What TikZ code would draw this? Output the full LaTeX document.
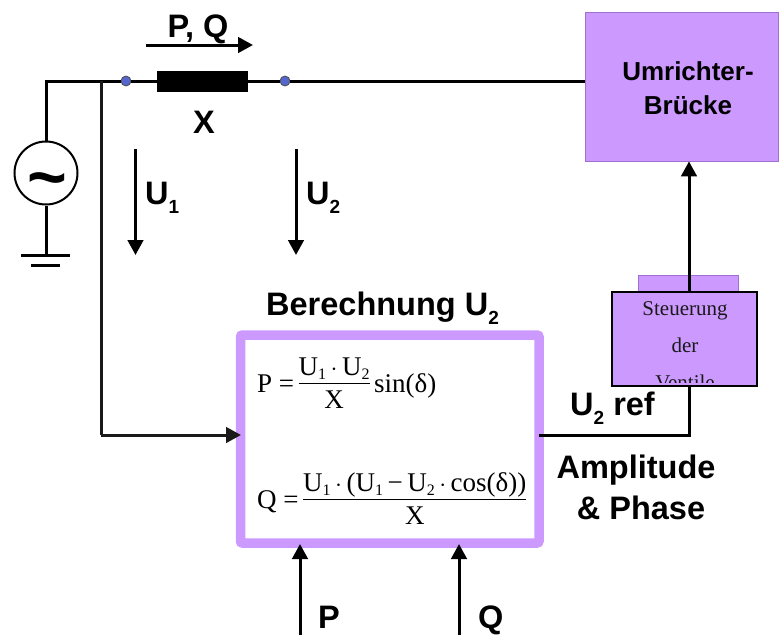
\documentclass[tikz,border=0pt]{standalone}
\usepackage{fontspec}
\usepackage{amsmath}
\setmainfont{Liberation Sans}
\newfontfamily\serifface{Liberation Serif}
\usetikzlibrary{arrows.meta}
\definecolor{lila}{HTML}{CC99FF}
\definecolor{lilaedge}{HTML}{A070D0}
\definecolor{dotblue}{HTML}{5566CC}
\tikzset{
  x=1pt,y=-1pt,
  wire/.style={draw=black,line width=3pt},
  thinwire/.style={draw=black!90,line width=3pt},
  arrowline/.style={wire,-{Triangle[length=15pt,width=15.5pt]}},
  lbl/.style={font=\fontsize{32.5}{36}\selectfont\bfseries,text=black,inner sep=0pt},
  umrlbl/.style={font=\fontsize{26}{30}\selectfont\bfseries,text=black,inner sep=0pt,anchor=base},
  sttext/.style={font=\serifface\fontsize{21}{24}\selectfont,inner sep=0pt,anchor=base,text=black!90},
  dot/.style={circle,fill=dotblue,draw=black!70,line width=0.8pt,minimum size=10pt,inner sep=0pt},
  eq/.style={font=\serifface\fontsize{27}{30}\selectfont,inner sep=0pt,anchor=west}
}
\newcommand{\lsub}[1]{\raisebox{-9pt}{\fontsize{19}{20}\selectfont #1}}
\newcommand{\esub}[1]{\raisebox{-4pt}{\fontsize{16}{17}\selectfont #1}}
\setlength{\arrayrulewidth}{1pt}
\begin{document}
\begin{tikzpicture}
\useasboundingbox (0,0) rectangle (779,635);
% boxes
\node[draw=lilaedge,fill=lila,line width=0.8pt,minimum width=193pt,minimum height=149pt,inner sep=0pt] (umr) at (681.5,86.5) {};
\node[umrlbl] (umrt1) at (688,80) {Umrichter-};
\node[umrlbl] (umrt2) at (688,114) {Brücke};
\node[draw=lilaedge,fill=lila,line width=0.8pt,minimum width=100pt,minimum height=18pt,inner sep=0pt] (stback) at (688,284) {};
\node[draw=black,fill=lila,line width=1.4pt,minimum width=145pt,minimum height=94pt,inner sep=0pt] (st) at (684.5,339) {};
\begin{scope}
\clip (612.7,292.7) rectangle (756.3,382.8);
\node[sttext] (st1) at (685,315) {Steuerung};
\node[sttext] (st2) at (685,352) {der};
\node[sttext] (st3) at (685,389) {Ventile};
\end{scope}
\node[draw=lila,fill=white,line width=9.5pt,rounded corners=2pt,minimum width=298.5pt,minimum height=208pt,inner sep=0pt] (calc) at (389.75,439) {};
% source
\node[circle,draw=black,line width=2pt,fill=white,minimum size=63pt,inner sep=0pt] (src) at (46,173) {};
\node[font=\fontsize{68}{68}\selectfont\bfseries,inner sep=0pt,anchor=base] (tilde) at (47,200) {\char"007E};
\coordinate (cTL) at (45,81);
\coordinate (cJ) at (101,81);
\node[dot] (d1) at (126,81) {};
\node[draw=black,fill=black,minimum width=90pt,minimum height=20pt,inner sep=0pt] (xr) at (202,81) {};
\node[dot] (d2) at (285,81) {};
\coordinate (gnd) at (45.5,255);
\coordinate (g1a) at (21,255); \coordinate (g1b) at (70,255);
\coordinate (g2a) at (31,265); \coordinate (g2b) at (60,265);
% wires
\draw[wire] (src.north) -- (src.north |- cTL) -- (d1.west);
\draw[wire] (d1.east) -- (xr.west);
\draw[wire] (xr.east) -- (d2.west);
\draw[wire] (d2.east) -- (d2.east -| umr.west);
\draw[wire] (src.south) -- (src.south |- gnd);
\draw[wire] (g1a) -- (g1b);
\draw[wire] (g2a) -- (g2b);
\coordinate (cIn) at (101,435);
\draw[thinwire] (cJ) -- (cIn);
\draw[thinwire,-{Triangle[length=15pt,width=15.5pt]}] (cIn) -- (241,435);
\coordinate (pqa) at (146,45); \coordinate (pqb) at (253,45);
\draw[arrowline] (pqa) -- (pqb);
\coordinate (u1a) at (135.5,149); \coordinate (u1b) at (135.5,255);
\draw[arrowline] (u1a) -- (u1b);
\coordinate (u2a) at (296,149); \coordinate (u2b) at (296,255);
\draw[arrowline] (u2a) -- (u2b);
\coordinate (pa) at (300,635); \coordinate (pb) at (300,544);
\draw[arrowline] (pa) -- (pb);
\coordinate (qa) at (459,635); \coordinate (qb) at (459,544);
\draw[arrowline] (qa) -- (qb);
\coordinate (rC) at (689,435);
\draw[wire] (539,435) -- (rC) -- (st.south -| rC);
\draw[arrowline] (st.north -| rC) -- (umr.south -| rC);
% labels
\node[lbl,anchor=base] (lpq) at (198,37) {P, Q};
\node[lbl,anchor=base] (lx) at (204,133) {X};
\node[lbl,anchor=base west] (lu1) at (145,204) {U\lsub{1}};
\node[lbl,anchor=base west] (lu2) at (306,204) {U\lsub{2}};
\node[lbl,anchor=base west] (lber) at (266,315) {Berechnung U\lsub{2}};
\node[lbl,anchor=base west] (lu2r) at (570,415) {U\lsub{2} ref};
\node[lbl,anchor=base] (lamp1) at (636,478) {Amplitude};
\node[lbl,anchor=base] (lamp2) at (641,519) {\& Phase};
\node[lbl,anchor=base west] (lp) at (318,628) {P};
\node[lbl,anchor=base west] (lq) at (478,628) {Q};
% equations
\node[eq] (eqp) at (257,386) {P =\,\begin{tabular}{@{}c@{}}U\esub{1}\,$\cdot$\,U\esub{2}\\[-2pt]\hline\rule{0pt}{25pt}X\end{tabular}\,sin(δ)};
\node[eq] (eqq) at (257,502) {Q =\,\begin{tabular}{@{}c@{}}U\esub{1}\,$\cdot$\,(U\esub{1}\,−\,U\esub{2}\,$\cdot$\,cos(δ))\\[-2pt]\hline\rule{0pt}{25pt}X\end{tabular}};
\end{tikzpicture}
\end{document}
